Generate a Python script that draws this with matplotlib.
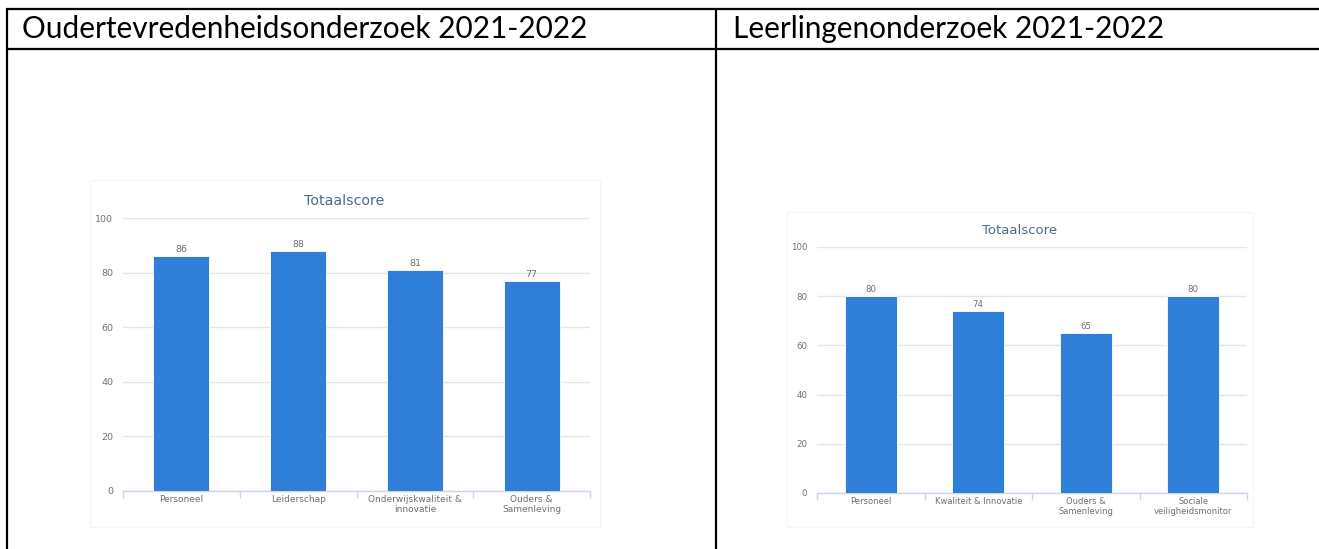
import matplotlib
matplotlib.use("Agg")
import matplotlib.pyplot as plt
from matplotlib.lines import Line2D
from matplotlib.patches import Rectangle
import numpy as np

W, H = 1319, 549

header_left = "Oudertevredenheidsonderzoek 2021-2022"
header_right = "Leerlingenonderzoek 2021-2022"
chart_title = "Totaalscore"

cats_left = ["Personeel", "Leiderschap", "Onderwijskwaliteit &\ninnovatie", "Ouders &\nSamenleving"]
vals_left = [86, 88, 81, 77]

cats_right = ["Personeel", "Kwaliteit & Innovatie", "Ouders &\nSamenleving", "Sociale\nveiligheidsmonitor"]
vals_right = [80, 74, 65, 80]

yticks = [0, 20, 40, 60, 80, 100]

BAR = "#2f7ed8"
GRID = "#e6e6e6"
AXIS = "#ccd6eb"
LABEL = "#707070"
TITLE = "#4d6a8a"

fig = plt.figure(figsize=(W / 100, H / 100), dpi=100)
fig.patch.set_facecolor("white")


def px_line(x0, y0, x1, y1, lw=2.0, color="black"):
    fig.add_artist(Line2D([x0 / W, x1 / W], [1 - y0 / H, 1 - y1 / H],
                          transform=fig.transFigure, color=color, lw=lw,
                          solid_capstyle="butt"))


# table borders
px_line(6, 9, W, 9, lw=1.6)
px_line(6, 49, W, 49, lw=1.6)
px_line(6.5, 8, 6.5, H, lw=1.6)
px_line(716.5, 8, 716.5, H, lw=1.6)

t1 = fig.text(22 / W, 1 - 29 / H, header_left, fontsize=18, family="Lato",
              va="center", ha="left", color="black")
t2 = fig.text(733 / W, 1 - 29 / H, header_right, fontsize=18, family="Lato",
              va="center", ha="left", color="black")
fig.canvas.draw()
r = fig.canvas.get_renderer()
w1 = t1.get_window_extent(r).width
scale = 565.0 / w1
t1.set_fontsize(18 * scale)
t2.set_fontsize(18 * scale)

# faint chart containers
for (x0, y0, x1, y1) in [(90, 180, 600, 527), (787, 212, 1253, 527)]:
    fig.add_artist(Rectangle((x0 / W, 1 - y1 / H), (x1 - x0) / W, (y1 - y0) / H,
                             transform=fig.transFigure, fill=False,
                             edgecolor="#f5f5f5", lw=1.0))


def make_chart(box, cats, vals, title_x, title_y, fs_tick, fs_title, fs_cat):
    x0, y0, x1, y1 = box
    ax = fig.add_axes([x0 / W, 1 - y1 / H, (x1 - x0) / W, (y1 - y0) / H])
    x = np.arange(len(cats))
    bars = ax.bar(x, vals, width=0.48, color=BAR, edgecolor="white", linewidth=0.6, zorder=3)
    ax.bar_label(bars, labels=[str(v) for v in vals], padding=1.5,
                 fontsize=fs_tick, color=LABEL, family="DejaVu Sans")
    ax.set_xlim(-0.5, len(cats) - 0.5)
    ax.set_ylim(0, 100)
    ax.set_yticks(yticks)
    ax.yaxis.grid(True, color=GRID, lw=1.0, zorder=0)
    ax.set_axisbelow(True)
    for s in ["top", "right", "left"]:
        ax.spines[s].set_visible(False)
    ax.spines["bottom"].set_color(AXIS)
    ax.spines["bottom"].set_linewidth(1.0)
    ax.tick_params(axis="y", length=0, labelsize=fs_tick, labelcolor=LABEL, pad=7)
    ax.set_xticks(x)
    ax.set_xticklabels(cats, fontsize=fs_cat, color=LABEL, linespacing=1.15,
                       family="DejaVu Sans")
    ax.tick_params(axis="x", which="major", length=0, pad=3)
    ax.set_xticks(np.arange(-0.5, len(cats)), minor=True)
    ax.tick_params(axis="x", which="minor", length=5, color=AXIS, width=1.0)
    fig.text(title_x / W, 1 - title_y / H, chart_title, fontsize=fs_title,
             color=TITLE, ha="center", va="center", family="DejaVu Sans")
    return ax


make_chart((123, 218, 590, 491), cats_left, vals_left, 344, 201, 6.8, 10.2, 6.5)
make_chart((817, 247, 1247, 493), cats_right, vals_right, 1020, 230, 6.2, 9.5, 6.0)

fig.savefig("out.png", dpi=100, facecolor="white")
